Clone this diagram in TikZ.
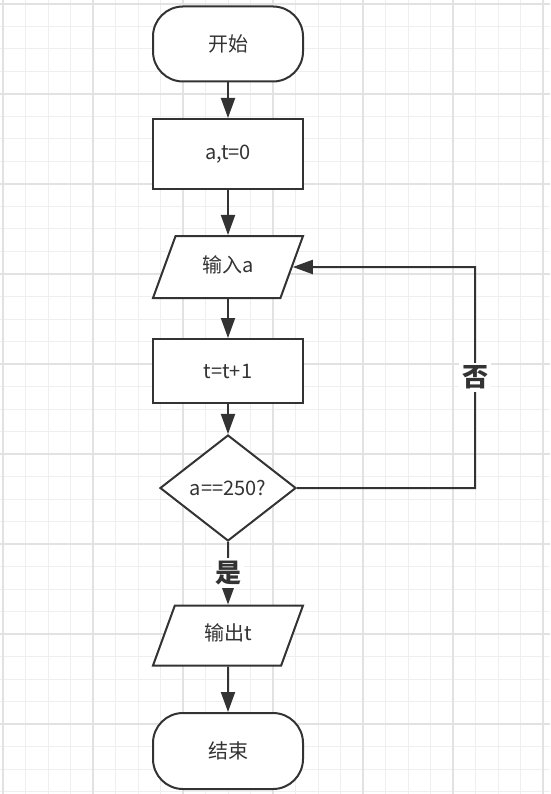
\documentclass[tikz,border=0pt]{standalone}
\usepackage{fontspec}
\setmainfont{Noto Sans CJK SC}
\usepackage{tikz}
\usetikzlibrary{shapes.geometric, arrows.meta}
\definecolor{ink}{HTML}{333333}
\definecolor{gridminor}{HTML}{EFEFEF}
\definecolor{gridmajor}{HTML}{E2E2E2}

\begin{document}
\begin{tikzpicture}[x=1pt,y=-1pt]
\tikzstyle{line} = [draw=ink, line width=2pt, -{Triangle[length=20pt,width=14pt]}]
\tikzstyle{block} = [draw=ink, line width=2pt, fill=white, text=ink, minimum width=150pt, inner sep=2pt, font=\fontsize{20}{22}\selectfont]
\tikzstyle{terminal} = [block, rectangle, rounded corners=30pt]
\tikzstyle{process} = [block, rectangle]
\tikzstyle{io} = [block, trapezium, trapezium left angle=70, trapezium right angle=110, trapezium stretches body, text height=14pt, text depth=4pt]
\tikzstyle{decision} = [block, diamond, minimum width=136pt, minimum height=106pt, aspect=1.28]
\tikzstyle{answer} = [fill=white, text=ink, inner sep=3pt, font=\fontsize{26}{28}\selectfont\bfseries]
\useasboundingbox (0,0) rectangle (550,794);
\fill[white] (0,0) rectangle (550,794);
% background grid
\foreach \i in {0,...,24} \draw[gridminor, line width=1pt] ({3+22.5*\i},0) -- ({3+22.5*\i},794);
\foreach \j in {0,...,35} \draw[gridminor, line width=1pt] (0,{4+22.5*\j}) -- (550,{4+22.5*\j});
\foreach \i in {0,...,6} \draw[gridmajor, line width=1.2pt] ({3+90*\i},0) -- ({3+90*\i},794);
\foreach \j in {0,...,8} \draw[gridmajor, line width=1.2pt] (0,{4+90*\j}) -- (550,{4+90*\j});
% flow chart
\node[terminal, minimum height=75pt] (B_0) at (228,44) {开始};
\node[process, minimum height=70pt] (B_1) at (228,154) {a,t=0};
\node[io, inner ysep=22pt] (B_2) at (228,267) {输入a};
\node[process, minimum height=64pt] (B_3) at (228,371) {t=t+1};
\node[decision] (B_4) at (228,488) {a==250?};
\node[io, inner ysep=21pt] (B_5) at (228,635.5) {输出t};
\node[terminal, minimum height=76pt] (B_6) at (228,751) {结束};
\coordinate (back) at (475,267);
\path [line] (B_0) -- (B_1);
\path [line] (B_1) -- (B_2);
\path [line] (B_2) -- (B_3);
\path [line] (B_3) -- (B_4);
\path [line] (B_4) -- node[answer] {是} (B_5);
\path [line] (B_5) -- (B_6);
\path [line] (B_4.east) -| node[answer, pos=0.75] {否} (back) -- (B_2.east);
\end{tikzpicture}
\end{document}
